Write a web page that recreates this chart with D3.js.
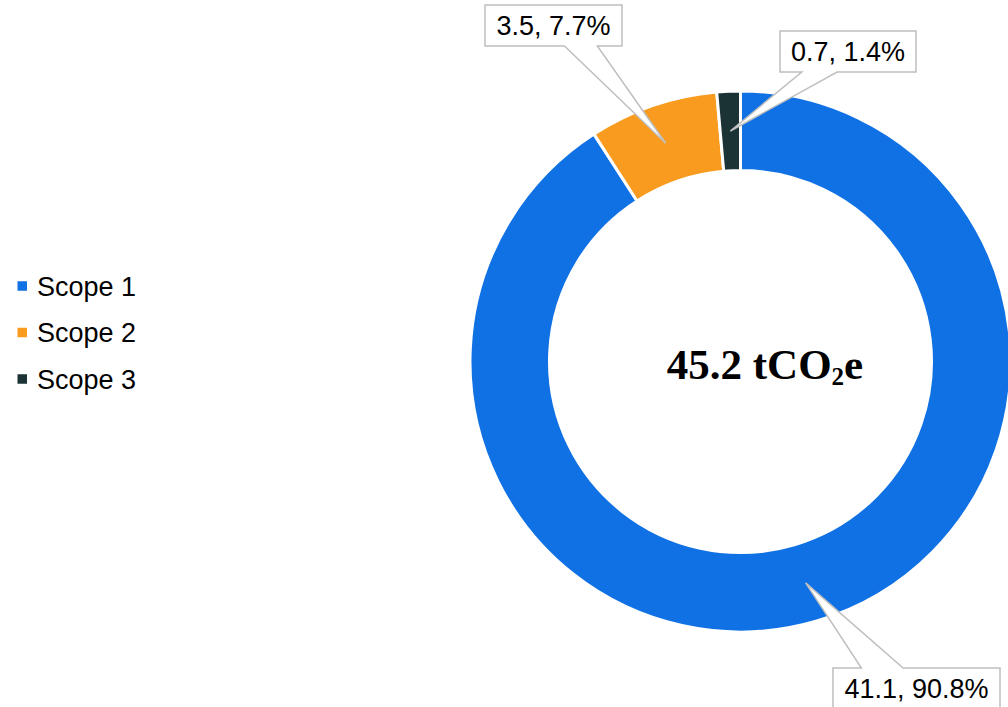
<!DOCTYPE html>
<html><head><meta charset="utf-8">
<script src="https://cdn.jsdelivr.net/npm/d3@7"></script>
<style>body{margin:0;background:#fff}svg{display:block}</style>
</head><body>
<svg id="c" width="1008" height="707"></svg>
<script>
const categories = ["Scope 1", "Scope 2", "Scope 3"];
const values = [41.1, 3.5, 0.7];
const percents = [90.8, 7.7, 1.4];
const colors = ["#0F71E3", "#F99B1E", "#1C3335"];
const totalLabel = "45.2";

// label box layout (box position, size, pointer base fractions)
const labelLayout = [
  {x: 833, y: 668, w: 167, h: 41, side: "top", base: [0.17, 0.42]},
  {x: 485, y: 5, w: 137, h: 41, side: "bottom", base: [0.58, 0.82]},
  {x: 780, y: 31, w: 136, h: 41, side: "bottom", base: [0.16, 0.42]}
];

const svg = d3.select("#c");
const cx = 740.5, cy = 361.5, rOut = 270.5, rIn = 191;

const pie = d3.pie().sort(null).value(d => d.pct);
const data = categories.map((c, i) => ({name: c, value: values[i], pct: percents[i], color: colors[i]}));
const arcs = pie(data);
const arc = d3.arc().innerRadius(rIn).outerRadius(rOut);

const g = svg.append("g").attr("transform", `translate(${cx},${cy})`);
g.selectAll("path").data(arcs).join("path")
  .attr("d", arc)
  .attr("fill", d => d.data.color)
  .attr("stroke", "#fff")
  .attr("stroke-width", 3);

// callouts
arcs.forEach((a, i) => {
  const L = labelLayout[i];
  const c = arc.centroid(a);
  const tx = cx + c[0], ty = cy + c[1];
  const x0 = L.x, x1 = L.x + L.w, y0 = L.y, y1 = L.y + L.h;
  const b0 = L.x + L.w * L.base[0], b1 = L.x + L.w * L.base[1];
  let p;
  if (L.side === "bottom") {
    p = `M${x0},${y0}H${x1}V${y1}H${b1}L${tx},${ty}L${b0},${y1}H${x0}Z`;
  } else {
    p = `M${x0},${y0}H${b0}L${tx},${ty}L${b1},${y0}H${x1}V${y1}H${x0}Z`;
  }
  svg.append("path").attr("d", p)
    .attr("fill", "#fff").attr("stroke", "#BFBFBF").attr("stroke-width", 1.5)
    .attr("stroke-linejoin", "miter");
  svg.append("text")
    .attr("x", (x0 + x1) / 2).attr("y", (y0 + y1) / 2 + 9.7)
    .attr("text-anchor", "middle")
    .attr("font-family", "Liberation Sans, Arial, sans-serif")
    .attr("font-size", 27).attr("fill", "#000")
    .text(`${d3.format(".1f")(a.data.value)}, ${d3.format(".1f")(a.data.pct)}%`);
});

// center text
const t = svg.append("text")
  .attr("x", 765).attr("y", 379)
  .attr("text-anchor", "middle")
  .attr("font-family", "Liberation Serif, Times New Roman, serif")
  .attr("font-weight", "bold").attr("font-size", 43).attr("fill", "#000");
t.append("tspan").text(totalLabel + " tCO");
t.append("tspan").attr("font-size", 25).attr("dy", 6).text("2");
t.append("tspan").attr("dy", -6).text("e");

// legend
const leg = svg.append("g");
categories.forEach((c, i) => {
  const y = 286 + i * 46.5;
  leg.append("rect").attr("x", 17.5).attr("y", y - 4.75).attr("width", 9.5).attr("height", 9.5).attr("fill", colors[i]);
  leg.append("text").attr("x", 37).attr("y", y + 9.5)
    .attr("font-family", "Liberation Sans, Arial, sans-serif")
    .attr("font-size", 27).attr("fill", "#000").text(c);
});
</script>
</body></html>
